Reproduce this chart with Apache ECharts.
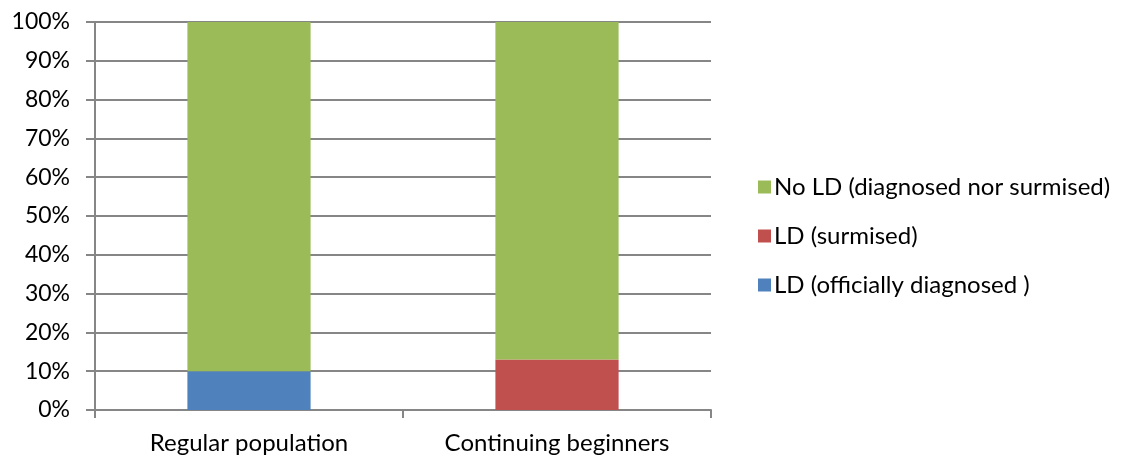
<!DOCTYPE html>
<html>
<head>
<meta charset="utf-8">
<script src="https://cdn.jsdelivr.net/npm/echarts@6/dist/echarts.min.js"></script>
<style>
  html, body { margin: 0; padding: 0; background: #fff; }
  #chart { width: 1128px; height: 460px; }
</style>
</head>
<body>
<div id="chart"></div>
<script>
// categories and stacked shares (%)
const categories = ['Regular population', 'Continuing beginners']
const officiallyDiagnosed = [10, 0]
const surmised = [0, 13]
const noLD = [90, 87]
const yTicks = [0, 10, 20, 30, 40, 50, 60, 70, 80, 90, 100]

const seriesNames = ['LD (officially diagnosed )', 'LD (surmised)', 'No LD (diagnosed nor surmised)']
const colors = ['#4F81BD', '#C0504D', '#9BBB59']

const chart = echarts.init(document.getElementById('chart'))
const font = 'Lato, "Open Sans", sans-serif'
const gray = '#868686'

const option = {
  animation: false,
  textStyle: { fontFamily: font },
  grid: { left: 95, right: 417, top: 22, bottom: 50, containLabel: false },
  legend: {
    orient: 'vertical',
    left: 753,
    top: 170,
    itemWidth: 13,
    itemHeight: 13,
    itemGap: 25,
    icon: 'rect',
    data: [seriesNames[2], seriesNames[1], seriesNames[0]],
    textStyle: { fontFamily: font, fontSize: 24, color: '#000', padding: [0, 0, 0, -2] }
  },
  xAxis: {
    type: 'category',
    data: categories,
    boundaryGap: true,
    axisLine: { lineStyle: { color: gray, width: 2 } },
    axisTick: { show: true, length: 8, lineStyle: { color: gray, width: 2 } },
    axisLabel: { color: '#000', fontSize: 24, margin: 21, fontFamily: font }
  },
  yAxis: {
    type: 'value',
    min: 0,
    max: 100,
    interval: 10,
    axisLine: { show: true, lineStyle: { color: gray, width: 2 } },
    axisTick: { show: true, length: 9, lineStyle: { color: gray, width: 2 } },
    splitLine: { lineStyle: { color: gray, width: 2 } },
    axisLabel: {
      color: '#000', fontSize: 23, margin: 25, fontFamily: font,
      formatter: v => (yTicks.includes(v) ? v + '%' : '')
    }
  },
  series: [
    { name: seriesNames[0], type: 'bar', stack: 'all', data: officiallyDiagnosed, barWidth: '40%', itemStyle: { color: colors[0] } },
    { name: seriesNames[1], type: 'bar', stack: 'all', data: surmised, barWidth: '40%', itemStyle: { color: colors[1] } },
    { name: seriesNames[2], type: 'bar', stack: 'all', data: noLD, barWidth: '40%', itemStyle: { color: colors[2] } }
  ]
}
chart.setOption(option)
</script>
</body>
</html>
